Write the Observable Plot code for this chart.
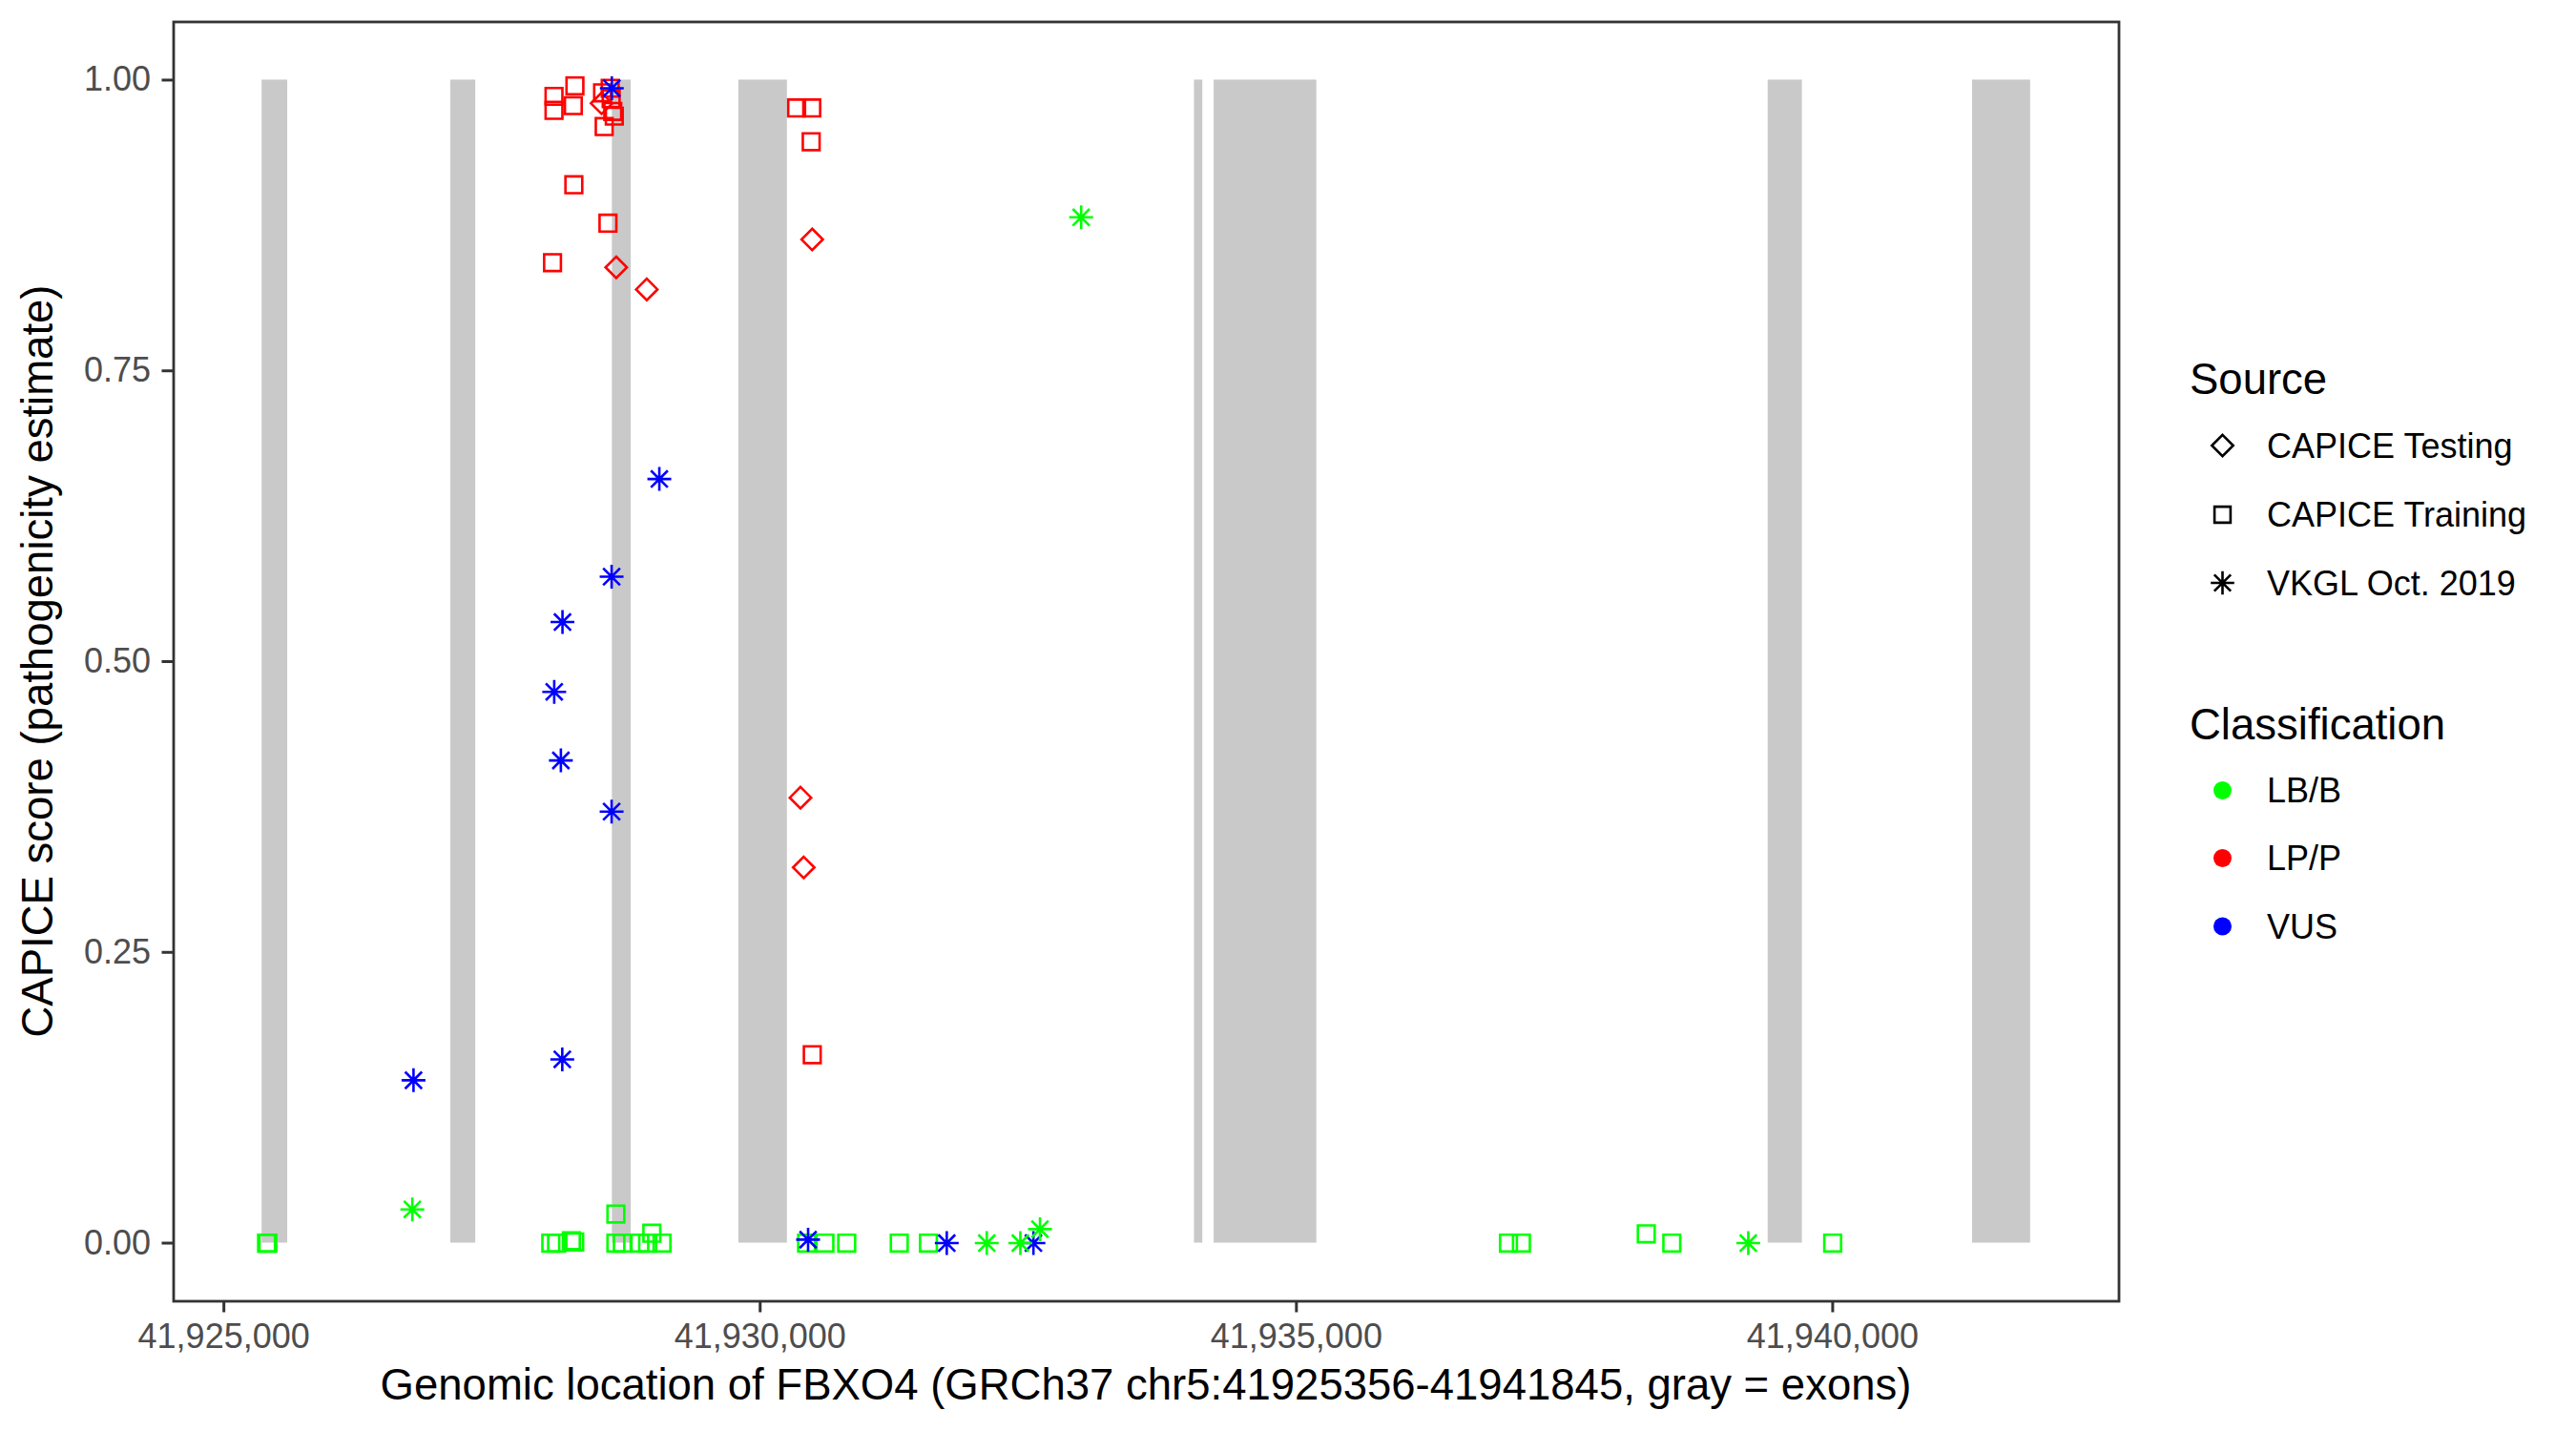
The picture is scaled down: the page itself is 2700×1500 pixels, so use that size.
<!DOCTYPE html>
<html>
<head>
<meta charset="utf-8">
<script src="https://cdn.jsdelivr.net/npm/d3@7"></script>
<script src="https://cdn.jsdelivr.net/npm/@observablehq/plot@0.6"></script>
<style>
  html, body { margin: 0; padding: 0; background: #ffffff; }
  #chart { width: 2700px; height: 1500px; }
</style>
</head>
<body>
<div id="chart"></div>
<script>
// ---------------- data ----------------
const exonStart = [41925356, 41927116, 41928622, 41929801, 41934049, 41934233, 41939398, 41941304];
const exonEnd   = [41925595, 41927348, 41928798, 41930254, 41934127, 41935190, 41939717, 41941845];

const classes = ["LB/B", "LP/P", "VUS"];
const classColors = ["#00ff00", "#ff0000", "#0000ff"];
const sources = ["CAPICE Testing", "CAPICE Training", "VKGL Oct. 2019"];

// CAPICE Testing (diamonds)
const testingPos   = [41928522, 41928658, 41928943, 41930485, 41930376, 41930406];
const testingScore = [0.980, 0.839, 0.820, 0.863, 0.383, 0.323];
const testingClass = ["LP/P", "LP/P", "LP/P", "LP/P", "LP/P", "LP/P"];

// CAPICE Training (squares)
const trainingPos = [
  41928078, 41928078, 41928273, 41928258, 41928531, 41928602, 41928626, 41928640, 41928611, 41928546,
  41930340, 41930481, 41930476, 41928263, 41928581, 41928064, 41930486,
  41925398, 41925410, 41928048, 41928102, 41928240, 41928271, 41928655, 41928655, 41928715, 41928878,
  41928951, 41928990, 41929085, 41930433, 41930604, 41930807, 41931297, 41931569, 41936977, 41937098,
  41938262, 41938500, 41940000
];
const trainingScore = [
  0.986, 0.974, 0.995, 0.978, 0.989, 0.993, 0.973, 0.969, 0.984, 0.960,
  0.976, 0.976, 0.947, 0.910, 0.877, 0.843, 0.162,
  0.000, 0.000, 0.000, 0.000, 0.002, 0.001, 0.025, 0.000, 0.000, 0.000,
  0.000, 0.0085, 0.000, 0.000, 0.000, 0.000, 0.000, 0.000, 0.000, 0.000,
  0.008, 0.000, 0.000
];
const trainingClass = [
  "LP/P", "LP/P", "LP/P", "LP/P", "LP/P", "LP/P", "LP/P", "LP/P", "LP/P", "LP/P",
  "LP/P", "LP/P", "LP/P", "LP/P", "LP/P", "LP/P", "LP/P",
  "LB/B", "LB/B", "LB/B", "LB/B", "LB/B", "LB/B", "LB/B", "LB/B", "LB/B", "LB/B",
  "LB/B", "LB/B", "LB/B", "LB/B", "LB/B", "LB/B", "LB/B", "LB/B", "LB/B", "LB/B",
  "LB/B", "LB/B", "LB/B"
];

// VKGL Oct. 2019 (asterisks)
const vkglPos = [
  41928617, 41929060, 41928615, 41928157, 41928080, 41928142, 41928615, 41928155, 41926768,
  41930447, 41931740, 41932548,
  41932993, 41926757, 41932113, 41932426, 41932609, 41939213
];
const vkglScore = [
  0.993, 0.657, 0.573, 0.534, 0.474, 0.415, 0.371, 0.158, 0.140,
  0.003, 0.000, 0.000,
  0.882, 0.029, 0.000, 0.000, 0.012, 0.000
];
const vkglClass = [
  "VUS", "VUS", "VUS", "VUS", "VUS", "VUS", "VUS", "VUS", "VUS",
  "VUS", "VUS", "VUS",
  "LB/B", "LB/B", "LB/B", "LB/B", "LB/B", "LB/B"
];

const xTicks = [41925000, 41930000, 41935000, 41940000];
const yTicks = [0, 0.25, 0.5, 0.75, 1];
const geneStart = 41925356, geneEnd = 41941845;
const exonScoreLow = 0, exonScoreHigh = 1;

const xLabel = "Genomic location of FBXO4 (GRCh37 chr5:41925356-41941845, gray = exons)";
const yLabel = "CAPICE score (pathogenicity estimate)";

// ---------------- helpers ----------------
const rows = (pos, score, cls) => pos.map((p, i) => ({pos: p, score: score[i], cls: cls[i]}));
const exons = exonStart.map((s, i) => ({start: s, end: exonEnd[i], lo: exonScoreLow, hi: exonScoreHigh}));

const diamondSym = {draw(ctx, size) { const r = Math.sqrt(size / Math.PI);
  ctx.moveTo(0, -r); ctx.lineTo(r, 0); ctx.lineTo(0, r); ctx.lineTo(-r, 0); ctx.closePath(); }};
const squareSym = {draw(ctx, size) { const r = Math.sqrt(size / Math.PI);
  ctx.moveTo(-r, -r); ctx.lineTo(r, -r); ctx.lineTo(r, r); ctx.lineTo(-r, r); ctx.closePath(); }};
const asteriskSym = {draw(ctx, size) { const r = Math.sqrt(size / Math.PI); const d = r / Math.SQRT2;
  ctx.moveTo(0, -r); ctx.lineTo(0, r); ctx.moveTo(-r, 0); ctx.lineTo(r, 0);
  ctx.moveTo(-d, -d); ctx.lineTo(d, d); ctx.moveTo(-d, d); ctx.lineTo(d, -d); }};

const span = geneEnd - geneStart;
const xDomain = [geneStart - 0.05 * span, geneEnd + 0.05 * span];

const FONT = "'Liberation Sans', Arial, Helvetica, sans-serif";
const SW = 2.6;

const plot = Plot.plot({
  width: 2700,
  height: 1500,
  marginLeft: 181.5,
  marginRight: 479.5,
  marginTop: 22.5,
  marginBottom: 136.5,
  style: {fontFamily: FONT, fontSize: "36px", background: "#ffffff", color: "#000000", overflow: "visible"},
  x: {domain: xDomain},
  y: {domain: [-0.05, 1.05]},
  color: {domain: classes, range: classColors},
  marks: [
    Plot.rect(exons, {x1: "start", x2: "end", y1: "lo", y2: "hi", fill: "#c9c9c9"}),
    Plot.dot(rows(trainingPos, trainingScore, trainingClass), {x: "pos", y: "score", stroke: "cls", fill: "none", symbol: squareSym, r: 8.8, strokeWidth: SW}),
    Plot.dot(rows(testingPos, testingScore, testingClass), {x: "pos", y: "score", stroke: "cls", fill: "none", symbol: diamondSym, r: 11.2, strokeWidth: SW}),
    Plot.dot(rows(vkglPos, vkglScore, vkglClass), {x: "pos", y: "score", stroke: "cls", fill: "none", symbol: asteriskSym, r: 12.5, strokeWidth: SW}),
    Plot.frame({stroke: "#333333", strokeWidth: 2.8}),
    Plot.axisX({ticks: xTicks, tickFormat: d3.format(","), tickSize: 12, tickPadding: 11, stroke: "#333333", strokeWidth: 3, fill: "#4d4d4d", fontSize: 36, label: null}),
    Plot.axisY({ticks: yTicks, tickFormat: d3.format(".2f"), tickSize: 12, tickPadding: 12, stroke: "#333333", strokeWidth: 3, fill: "#4d4d4d", fontSize: 36, label: null})
  ]
});

document.getElementById("chart").appendChild(plot);

// ---------------- titles & legend ----------------
const svg = d3.select(plot);
svg.append("text")
  .attr("x", (181.5 + 2220.5) / 2).attr("y", 1467)
  .attr("text-anchor", "middle")
  .style("font-family", FONT).style("font-size", "45.5px").attr("fill", "#000")
  .text(xLabel);
svg.append("text")
  .attr("transform", `translate(55, ${(22.5 + 1363.5) / 2}) rotate(-90)`)
  .attr("text-anchor", "middle")
  .style("font-family", FONT).style("font-size", "45.5px").attr("fill", "#000")
  .text(yLabel);

const leg = svg.append("g").style("font-family", FONT).attr("text-anchor", "start");
const keyX = 2329.5, textX = 2376, titleX = 2295;
const symPath = (sym, r) => { const p = d3.path(); sym.draw(p, r * r * Math.PI); return p.toString(); };

leg.append("text").attr("x", titleX).attr("y", 413).attr("text-anchor", "start").style("font-size", "45.5px").attr("fill", "#000").text("Source");
const srcSyms = [[diamondSym, 11.2], [squareSym, 8.4], [asteriskSym, 12.3]];
const srcY = [467, 539.5, 611];
sources.forEach((s, i) => {
  leg.append("path").attr("d", symPath(srcSyms[i][0], srcSyms[i][1]))
    .attr("transform", `translate(${keyX},${srcY[i]})`)
    .attr("fill", "none").attr("stroke", "#000").attr("stroke-width", SW);
  leg.append("text").attr("x", textX).attr("y", srcY[i] + 12.9).attr("text-anchor", "start").style("font-size", "36px").attr("fill", "#000").text(s);
});

leg.append("text").attr("x", titleX).attr("y", 775).attr("text-anchor", "start").style("font-size", "45.5px").attr("fill", "#000").text("Classification");
const clsY = [828.5, 899.5, 971];
classes.forEach((c, i) => {
  leg.append("circle").attr("cx", keyX).attr("cy", clsY[i]).attr("r", 9.5).attr("fill", classColors[i]);
  leg.append("text").attr("x", textX).attr("y", clsY[i] + 12.9).attr("text-anchor", "start").style("font-size", "36px").attr("fill", "#000").text(c);
});
</script>
</body>
</html>
